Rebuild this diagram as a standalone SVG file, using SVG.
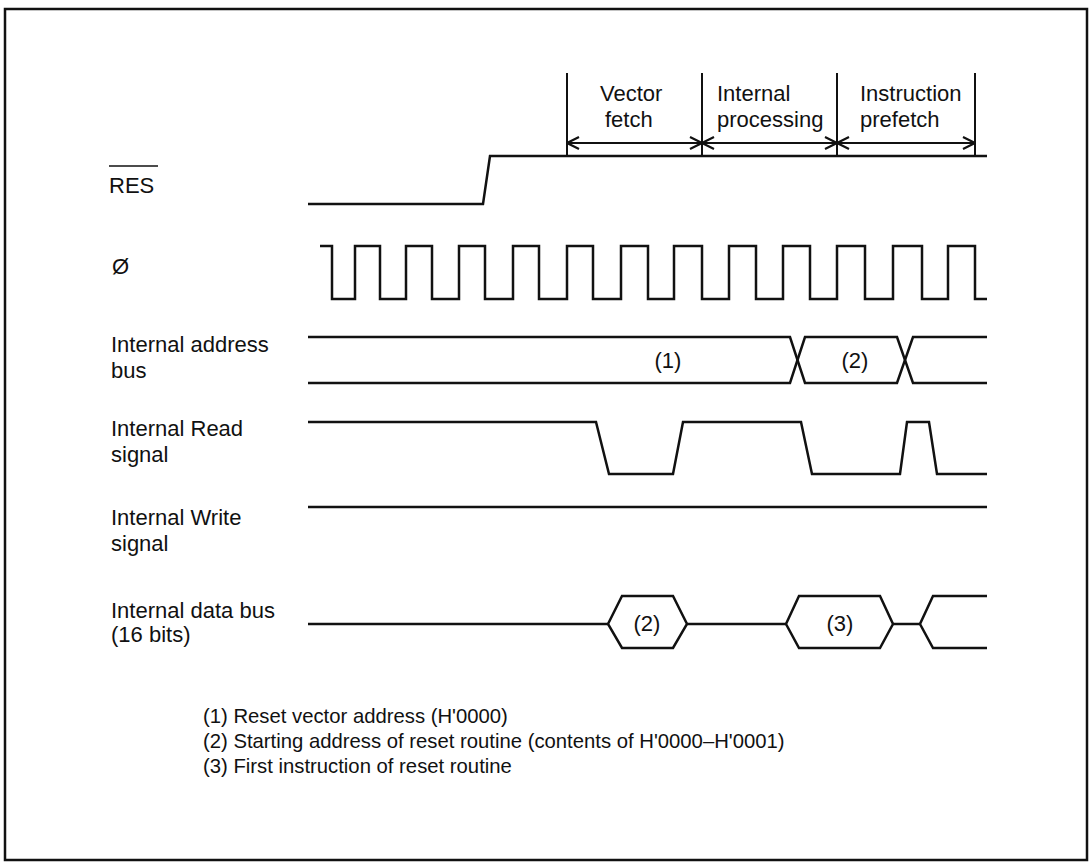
<svg xmlns="http://www.w3.org/2000/svg" width="1092" height="868" viewBox="0 0 1092 868">
<style>
text{font-family:"Liberation Sans",Arial,sans-serif;font-size:22px;fill:#111}
.leg{font-size:20.3px}
.w{fill:none;stroke:#111;stroke-width:2.5;stroke-linejoin:miter}
.t{fill:none;stroke:#111;stroke-width:2}
</style>
<defs>
<marker id="ah" viewBox="0 0 14 14" refX="13" refY="7" markerWidth="14" markerHeight="14" markerUnits="userSpaceOnUse" orient="auto-start-reverse">
<path d="M1,1 L13,7 L1,13" fill="none" stroke="#111" stroke-width="2.2"/>
</marker>
</defs>
<rect x="5" y="9" width="1082" height="851" fill="#fff" stroke="#111" stroke-width="2.5"/>
<g id="phases">
<g class="t">
<line x1="567" y1="73" x2="567" y2="157"/>
<line x1="702" y1="73" x2="702" y2="157"/>
<line x1="837" y1="73" x2="837" y2="157"/>
<line x1="975" y1="73" x2="975" y2="157"/>
</g>
<g class="t">
<line x1="567" y1="143" x2="702" y2="143" marker-start="url(#ah)" marker-end="url(#ah)"/>
<line x1="702" y1="143" x2="837" y2="143" marker-start="url(#ah)" marker-end="url(#ah)"/>
<line x1="837" y1="143" x2="975" y2="143" marker-start="url(#ah)" marker-end="url(#ah)"/>
</g>
<text x="600" y="101">Vector</text>
<text x="605" y="127">fetch</text>
<text x="717" y="101">Internal</text>
<text x="717" y="127">processing</text>
<text x="860" y="101">Instruction</text>
<text x="860" y="127">prefetch</text>
</g>
<g id="labels">
<line x1="109" y1="166" x2="158" y2="166" stroke="#111" stroke-width="1.5"/>
<text x="109" y="193">RES</text>
<text x="112" y="274">Ø</text>
<text x="111" y="352">Internal address</text>
<text x="111" y="378">bus</text>
<text x="111" y="436">Internal Read</text>
<text x="111" y="462">signal</text>
<text x="111" y="525">Internal Write</text>
<text x="111" y="551">signal</text>
<text x="111" y="618">Internal data bus</text>
<text x="111" y="642">(16 bits)</text>
</g>
<g id="connectors">
<path id="res" class="w" d="M308,204 H483 L490,156 H987"/>
<path id="clk" class="w" d="M320,246 H332 V299 H355 V246 H380 V299 H406 V246 H432 V299 H459 V246 H485 V299 H513 V246 H539 V299 H567 V246 H593 V299 H621 V246 H648 V299 H674 V246 H702 V299 H729 V246 H756 V299 H783 V246 H810 V299 H837 V246 H865 V299 H893 V246 H922 V299 H948 V246 H975 V299 H987"/>
<g id="addr" class="w">
<path d="M308,337 H790 L805,383 H897 L913,337 H987"/>
<path d="M308,383 H790 L805,337 H897 L913,383 H987"/>
</g>
<path id="rd" class="w" d="M308,422 H596 L609,474 H673 L683,422 H801 L812,474 H900 L907,422 H929 L937,474 H987"/>
<path id="wr" class="w" d="M308,507 H987"/>
<g id="data" class="w">
<path d="M308,624 H608"/>
<polygon points="608,624 622,596 673,596 687,624 673,648 622,648"/>
<path d="M687,624 H786"/>
<polygon points="786,624 799,596 880,596 893,624 880,648 799,648"/>
<path d="M893,624 H920"/>
<path d="M987,596 H933 L920,624 L933,648 H987"/>
</g>
</g>
<g id="values" text-anchor="middle">
<text x="668" y="368">(1)</text>
<text x="855" y="368">(2)</text>
<text x="647" y="631">(2)</text>
<text x="840" y="631">(3)</text>
</g>
<g id="legend">
<text class="leg" x="203" y="723">(1) Reset vector address (H'0000)</text>
<text class="leg" x="203" y="748">(2) Starting address of reset routine (contents of H'0000–H'0001)</text>
<text class="leg" x="203" y="773">(3) First instruction of reset routine</text>
</g>
</svg>
